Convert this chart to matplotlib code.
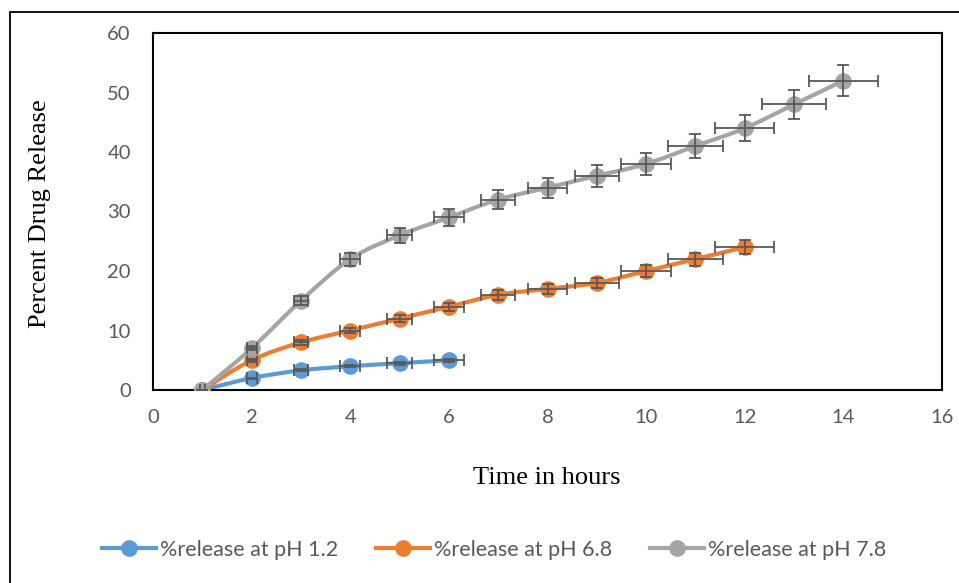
import numpy as np
import matplotlib
matplotlib.use("Agg")
import matplotlib.pyplot as plt
from matplotlib.path import Path
from matplotlib.patches import PathPatch, Rectangle
from matplotlib.lines import Line2D

# data
hours_ph12 = [1, 2, 3, 4, 5, 6]
release_ph12 = [0, 2, 3.3, 4, 4.5, 5]

hours_ph68 = [1, 2, 3, 4, 5, 6, 7, 8, 9, 10, 11, 12]
release_ph68 = [0, 5, 8, 10, 12, 14, 16, 17, 18, 20, 22, 24]

hours_ph78 = [1, 2, 3, 4, 5, 6, 7, 8, 9, 10, 11, 12, 13, 14]
release_ph78 = [0, 7, 15, 22, 26, 29, 32, 34, 36, 38, 41, 44, 48, 52]

labels = ['%release at pH 1.2', '%release at pH 6.8', '%release at pH 7.8']
colors = ['#5B9BD5', '#ED7D31', '#A5A5A5']
err_pct = 5  # percentage error bars (both directions)

x_ticks = [0, 2, 4, 6, 8, 10, 12, 14, 16]
y_ticks = [0, 10, 20, 30, 40, 50, 60]


def smooth_path(x, y):
    # excel style smoothed line: cubic bezier segments through the points
    pts = np.column_stack([x, y]).astype(float)
    n = len(pts)
    verts = [pts[0]]
    codes = [Path.MOVETO]
    for i in range(n - 1):
        p0 = pts[max(i - 1, 0)]
        p1 = pts[i]
        p2 = pts[i + 1]
        p3 = pts[min(i + 2, n - 1)]
        verts += [p1 + (p2 - p0) / 6, p2 - (p3 - p1) / 6, p2]
        codes += [Path.CURVE4] * 3
    return Path(verts, codes)


fig = plt.figure(figsize=(9.59, 5.83), dpi=100)
ax = fig.add_axes([153/959, 1-390/583, (942-153)/959, (390-33)/583])

series = [(hours_ph12, release_ph12), (hours_ph68, release_ph68),
          (hours_ph78, release_ph78)]
handles = []
for k, (x, y) in enumerate(series):
    x = np.array(x, dtype=float)
    y = np.array(y, dtype=float)
    z = 2 + k
    ax.add_patch(PathPatch(smooth_path(x, y), fc='none', ec=colors[k],
                           lw=3, capstyle='round', joinstyle='round', zorder=z))
    ax.plot(x, y, 'o', ms=11, color=colors[k], zorder=z + 0.1)
    ax.errorbar(x, y, xerr=x*err_pct/100, yerr=y*err_pct/100, fmt='none',
                ecolor='#595959', elinewidth=1.3, capsize=4, capthick=1.3,
                zorder=z + 0.2)
    handles.append(Line2D([], [], color=colors[k], lw=3, marker='o', ms=11))

ax.set_xlim(0, 16)
ax.set_ylim(0, 60)
ax.set_xticks(x_ticks)
ax.set_yticks(y_ticks)
ax.tick_params(length=0, labelsize=14.5, labelcolor='#595959')
ax.tick_params(axis='y', pad=16)
ax.tick_params(axis='x', pad=14)
for lab in ax.get_xticklabels() + ax.get_yticklabels():
    lab.set_family('Lato')
for s in ax.spines.values():
    s.set_linewidth(1.5)
    s.set_color('black')

fig.text(40/959, 1-214/583, 'Percent Drug Release', rotation=90, ha='center',
         va='center', fontsize=19, family='Liberation Serif')
fig.text(547/959, 1-478/583, 'Time in hours', ha='center', va='center',
         fontsize=19, family='Liberation Serif')

leg = fig.legend(handles, labels, loc='center', ncol=3,
                 bbox_to_anchor=(494/959, 1-550/583), frameon=False,
                 prop={'family': 'Lato', 'size': 15.5}, handlelength=2.5,
                 handletextpad=0.2, columnspacing=1.75)
for t in leg.get_texts():
    t.set_color('#595959')

# outer chart frame
fig.add_artist(Rectangle((10/959, -0.1), 1.2, 1-12/583+0.1,
                         transform=fig.transFigure, fill=False, lw=1.3,
                         ec='black', clip_on=False))

fig.savefig('out.png', dpi=100)
